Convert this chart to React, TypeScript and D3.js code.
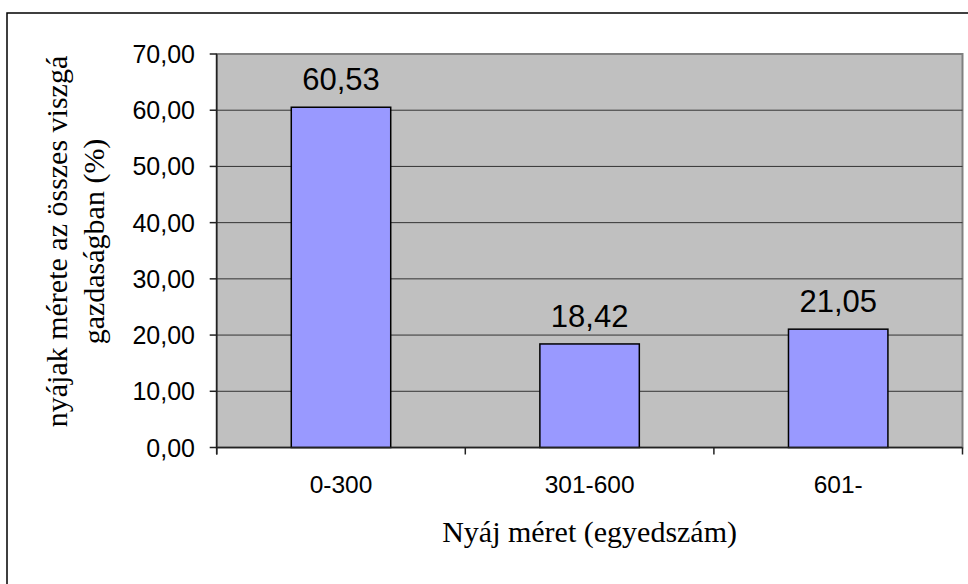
import * as d3 from "d3";
import React, { useEffect } from "react";

const categories = ["0-300", "301-600", "601-"];
const values = [60.53, 18.42, 21.05];
const yTicks = [0, 10, 20, 30, 40, 50, 60, 70];
const xTitle = "Nyáj méret (egyedszám)";
const yTitleLines = ["nyájak mérete az összes viszgá", "gazdaságban (%)"];

const W = 968;
const H = 584;
const plot = { left: 216.7, top: 54, right: 962.5, bottom: 447.5 };

const fmt = (v: number) => v.toFixed(2).replace(".", ",");

const App: React.FC = () => {
    useEffect(() => {
        document.body.style.margin = "0";
    }, []);

    const x = d3.scaleBand<string>()
        .domain(categories)
        .range([plot.left, plot.right])
        .padding(0);
    const y = d3.scaleLinear().domain([0, 70]).range([plot.bottom, plot.top]);

    const bw = x.bandwidth() * 0.4;
    const sans = "'Liberation Sans', Arial, sans-serif";
    const serif = "'Liberation Serif', 'Times New Roman', serif";
    const boundaries = [...categories.map(c => x(c) as number), plot.right];
    const yMid = 241.5;

    return (
        <svg width={W} height={H} style={{ display: "block" }}>
            <rect x={0} y={0} width={W} height={H} fill="#fff" />
            {/* outer frame */}
            <rect x={7} y={13} width={W} height={H} fill="none" stroke="#000" strokeWidth={1.5} />

            {/* plot area */}
            <rect x={plot.left} y={plot.top} width={plot.right - plot.left} height={plot.bottom - plot.top}
                fill="#C0C0C0" stroke="#808080" strokeWidth={2} />

            {/* gridlines */}
            {yTicks.filter(t => t > 0 && t < 70).map(t => (
                <line key={"g" + t} x1={plot.left} x2={plot.right} y1={y(t)} y2={y(t)} stroke="#333" strokeWidth={1} />
            ))}

            {/* bars */}
            {categories.map((c, i) => {
                const bx = (x(c) as number) + (x.bandwidth() - bw) / 2;
                return (
                    <g key={c}>
                        <rect x={bx} y={y(values[i])} width={bw} height={y(0) - y(values[i])}
                            fill="#9999FF" stroke="#000" strokeWidth={1.5} />
                        <text x={bx + bw / 2} y={y(values[i]) - 17} textAnchor="middle"
                            fontFamily={sans} fontSize={31} fill="#000">{fmt(values[i])}</text>
                        <text x={bx + bw / 2} y={493} textAnchor="middle"
                            fontFamily={sans} fontSize={24.5} fill="#000">{c}</text>
                    </g>
                );
            })}

            {/* axes */}
            <line x1={plot.left} x2={plot.left} y1={plot.top} y2={plot.bottom + 7} stroke="#222" strokeWidth={1.5} />
            <line x1={plot.left} x2={plot.right} y1={plot.bottom} y2={plot.bottom} stroke="#222" strokeWidth={1.5} />
            {yTicks.map(t => (
                <g key={"t" + t}>
                    <line x1={plot.left - 7} x2={plot.left} y1={y(t)} y2={y(t)} stroke="#222" strokeWidth={1.5} />
                    <text x={195} y={y(t)} dy="0.36em" textAnchor="end"
                        fontFamily={sans} fontSize={25} fill="#000">{fmt(t)}</text>
                </g>
            ))}
            {boundaries.map((b, i) => (
                <line key={"xb" + i} x1={b} x2={b} y1={plot.bottom} y2={plot.bottom + 7} stroke="#222" strokeWidth={1.5} />
            ))}

            {/* titles */}
            <text x={(plot.left + plot.right) / 2} y={542} textAnchor="middle"
                fontFamily={serif} fontSize={30} fill="#000">{xTitle}</text>
            <g transform={`translate(67,${yMid}) rotate(-90)`}>
                <text x={0} y={0} textAnchor="middle" fontFamily={serif} fontSize={30} fill="#000">{yTitleLines[0]}</text>
                <text x={0} y={37} textAnchor="middle" fontFamily={serif} fontSize={30} fill="#000">{yTitleLines[1]}</text>
            </g>
        </svg>
    );
};

export default App;
